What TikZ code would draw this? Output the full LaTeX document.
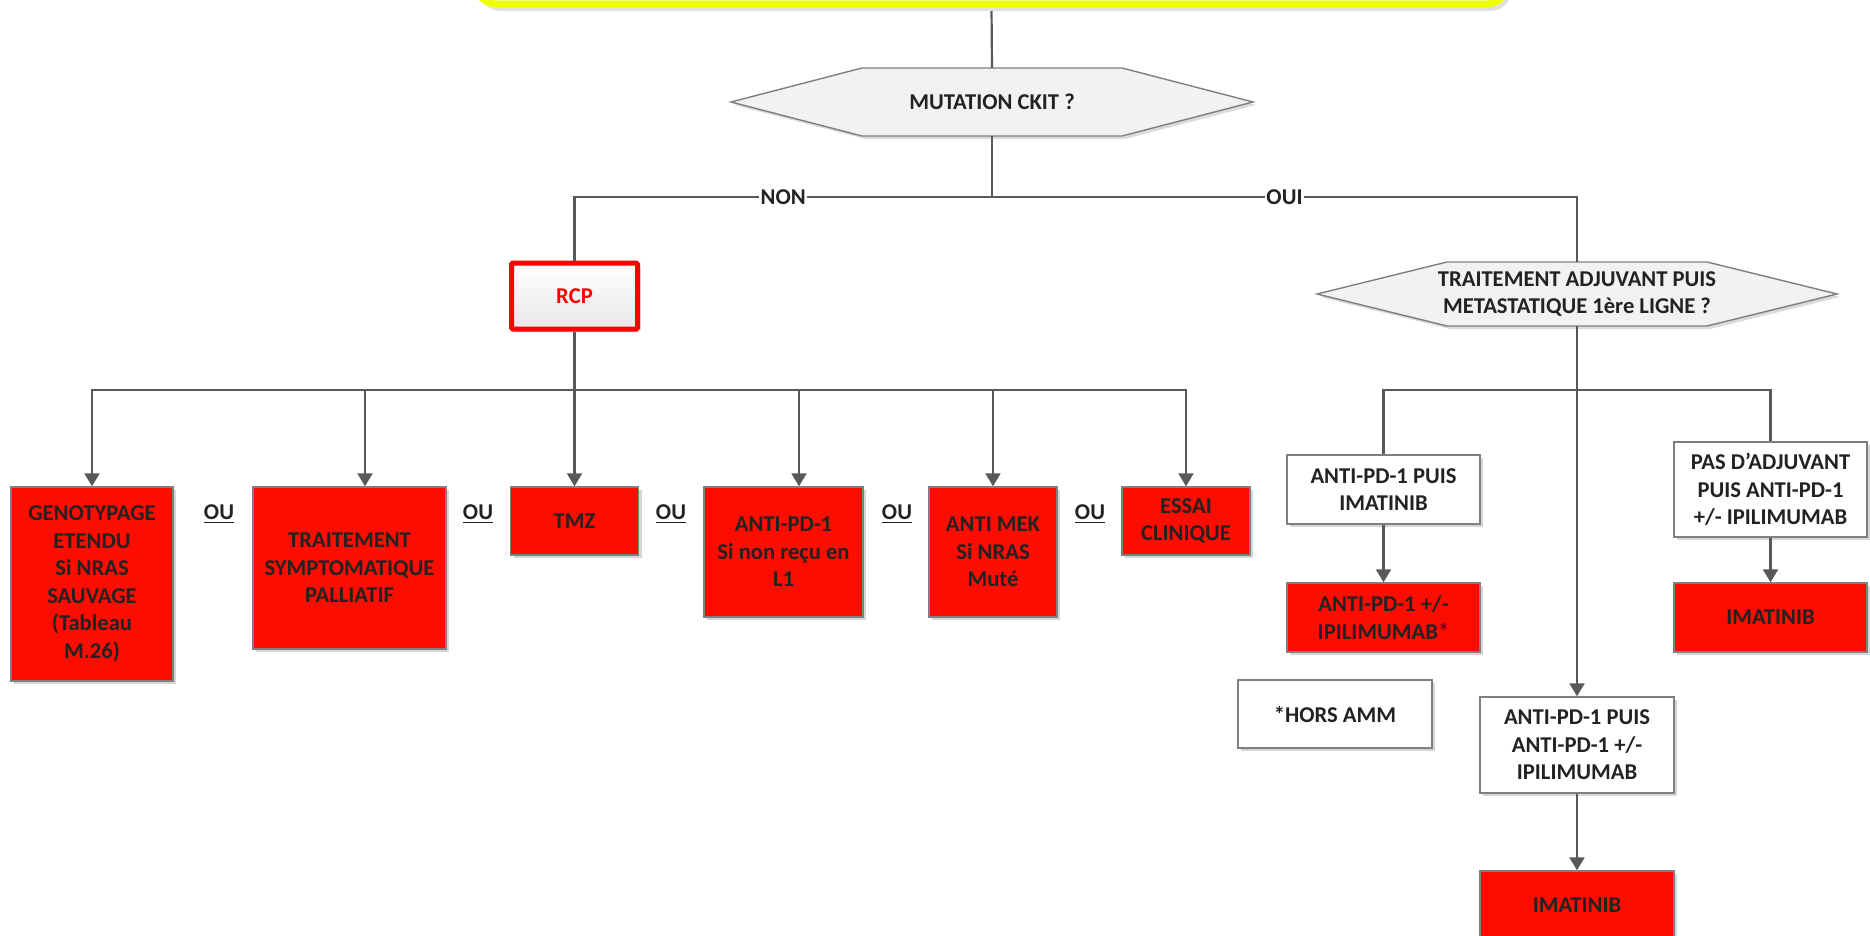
\documentclass[tikz,border=0pt]{standalone}
\usepackage{fontspec}
\setmainfont{Carlito}
\usetikzlibrary{arrows.meta,shadows,calc,backgrounds}

\definecolor{wire}{HTML}{595959}
\definecolor{frame}{HTML}{7F7F7F}
\definecolor{boxred}{HTML}{FE0C00}
\definecolor{ink}{HTML}{222222}
\definecolor{hilite}{HTML}{EEFF00}
\definecolor{rcpred}{HTML}{FF0000}

% underlined word with a thicker rule
\newcommand\ulword[1]{\setbox0\hbox{#1}\rlap{\rule[-3.5pt]{\wd0}{1.6pt}}\box0}

\tikzset{
  base/.style={inner sep=0pt, align=center, text=ink,
    font=\fontsize{22.6}{27.5}\selectfont\bfseries},
  softshadow/.style={drop shadow={shadow xshift=3pt, shadow yshift=-3pt,
    fill=black, opacity=0.16}},
  redbox/.style={base, rectangle, draw=frame, line width=1.4pt, fill=boxred, softshadow},
  whitebox/.style={base, rectangle, draw=frame, line width=1.4pt, fill=white, softshadow},
  hexfill/.style={draw=frame, line width=1.4pt, fill=black!5},
  hexshade/.style={fill=black!14},
  link/.style={draw=wire, line width=2.2pt},
  arr/.style={-{Triangle[length=13pt,width=15pt]}},
  lbl/.style={fill=white, inner sep=1.5pt, text=ink,
    font=\fontsize{22.6}{26}\selectfont\bfseries},
}

\begin{document}
\begin{tikzpicture}[x=1pt,y=-1pt]
\useasboundingbox (0,0) rectangle (1870,936);

% heading box (mostly above the page)
\node[draw=hilite, line width=7pt, rounded corners=22pt, fill=white,
      minimum width=1033pt, minimum height=88pt,
      drop shadow={shadow xshift=4pt, shadow yshift=-7pt, fill=black, opacity=0.12}]
      (head) at (991.5,-40) {};

% decision nodes; hexagon outlines drawn behind, around each centre
\node[base, minimum width=260pt, minimum height=68pt] (hex1) at (992,102) {MUTATION CKIT ?};
\node[base, minimum height=64pt] (hex2) at (1577,294)
  {TRAITEMENT ADJUVANT PUIS\\METASTATIQUE 1ère LIGNE ?};
\begin{scope}[on background layer]
  \fill[hexshade] ($(hex1.center)+(-127,-31)$) -- ($(hex1.center)+(133,-31)$) -- ($(hex1.center)+(264,3)$)
    -- ($(hex1.center)+(133,37)$) -- ($(hex1.center)+(-127,37)$) -- ($(hex1.center)+(-258,3)$) -- cycle;
  \draw[hexfill] ($(hex1.center)+(-130,-34)$) -- ($(hex1.center)+(130,-34)$) -- ($(hex1.center)+(261,0)$)
    -- ($(hex1.center)+(130,34)$) -- ($(hex1.center)+(-130,34)$) -- ($(hex1.center)+(-261,0)$) -- cycle;
  \fill[hexshade] ($(hex2.center)+(-127,-29)$) -- ($(hex2.center)+(133,-29)$) -- ($(hex2.center)+(263,3)$)
    -- ($(hex2.center)+(133,35)$) -- ($(hex2.center)+(-127,35)$) -- ($(hex2.center)+(-257,3)$) -- cycle;
  \draw[hexfill] ($(hex2.center)+(-130,-32)$) -- ($(hex2.center)+(130,-32)$) -- ($(hex2.center)+(260,0)$)
    -- ($(hex2.center)+(130,32)$) -- ($(hex2.center)+(-130,32)$) -- ($(hex2.center)+(-260,0)$) -- cycle;
\end{scope}

% RCP
\node[base, text=rcpred, draw=rcpred, line width=5pt, rounded corners=1.5pt,
      top color=white, bottom color=black!9,
      minimum width=126pt, minimum height=66pt, softshadow] (rcp) at (574.5,296) {RCP};

% NON branch: options
\node[redbox, minimum width=162pt, minimum height=194pt] (geno) at (92,584)
  {GENOTYPAGE\\ETENDU\\Si NRAS\\SAUVAGE\\(Tableau\\M.26)};
\node[redbox, minimum width=193pt, minimum height=162pt] (pall) at (349.5,568)
  {TRAITEMENT\\SYMPTOMATIQUE\\PALLIATIF};
\node[redbox, minimum width=128pt, minimum height=68pt] (tmz) at (574.5,521) {TMZ};
\node[redbox, minimum width=159pt, minimum height=130pt] (apd) at (783.5,552)
  {ANTI-PD-1\\Si non reçu en\\L1};
\node[redbox, minimum width=128pt, minimum height=130pt] (mek) at (993,552)
  {ANTI MEK\\Si NRAS\\Muté};
\node[redbox, minimum width=128pt, minimum height=68pt] (essai) at (1186,521)
  {ESSAI\\CLINIQUE};

\node[base] (ou1) at (219,514) {\ulword{OU}};
\node[base] (ou2) at (478,514) {\ulword{OU}};
\node[base] (ou3) at (671,514) {\ulword{OU}};
\node[base] (ou4) at (897,514) {\ulword{OU}};
\node[base] (ou5) at (1090,514) {\ulword{OU}};

% OUI branch
\node[whitebox, minimum width=193pt, minimum height=69pt] (w1) at (1383.5,489.5)
  {ANTI-PD-1 PUIS\\IMATINIB};
\node[redbox, minimum width=193pt, minimum height=69pt] (r1) at (1383.5,617.5)
  {ANTI-PD-1 +/-\\IPILIMUMAB*};
\node[whitebox, minimum width=193pt, minimum height=95pt] (w2) at (1770.5,489.5)
  {PAS D’ADJUVANT\\PUIS ANTI-PD-1\\+/- IPILIMUMAB};
\node[redbox, minimum width=193pt, minimum height=69pt] (r2) at (1770.5,617.5) {IMATINIB};
\node[whitebox, minimum width=194pt, minimum height=96pt] (w3) at (1577,745)
  {ANTI-PD-1 PUIS\\ANTI-PD-1 +/-\\IPILIMUMAB};
\node[redbox, minimum width=194pt, minimum height=69pt] (r3) at (1577,905.5) {IMATINIB};
\node[whitebox, minimum width=194pt, minimum height=68pt] (hors) at (1335,714) {*HORS AMM};

% connectors
\coordinate (split) at (992,197);
\coordinate (busmid) at (574.5,390);
\coordinate (b2) at (365,390);
\coordinate (b4) at (799,390);
\coordinate (rbus) at (1577,390);

\draw[link, shorten <=3.5pt] (head.south) -- (hex1.north);
\draw[link] (hex1.south) -- (split);
\draw[link] (split) -- node[lbl] (non) {NON} (split -| rcp.north) -- (rcp.north);
\draw[link] (split) -- node[lbl] (oui) {OUI} (split -| hex2.north) -- (hex2.north);

\draw[link, arr] (busmid) -| (geno.north);
\draw[link, arr] (busmid) -| (essai.north);
\draw[link, arr] (rcp.south) -- (tmz.north);
\draw[link, arr] (b2) -- (b2 |- pall.north);
\draw[link, arr] (b4) -- (b4 |- apd.north);
\draw[link, arr] (mek.north |- busmid) -- (mek.north);

\draw[link] (rbus) -| (w1.north);
\draw[link] (rbus) -| (w2.north);
\draw[link, arr] (hex2.south) -- (w3.north);
\draw[link, arr] (w1.south) -- (r1.north);
\draw[link, arr] (w2.south) -- (r2.north);
\draw[link, arr] (w3.south) -- (r3.north);
\end{tikzpicture}
\end{document}
